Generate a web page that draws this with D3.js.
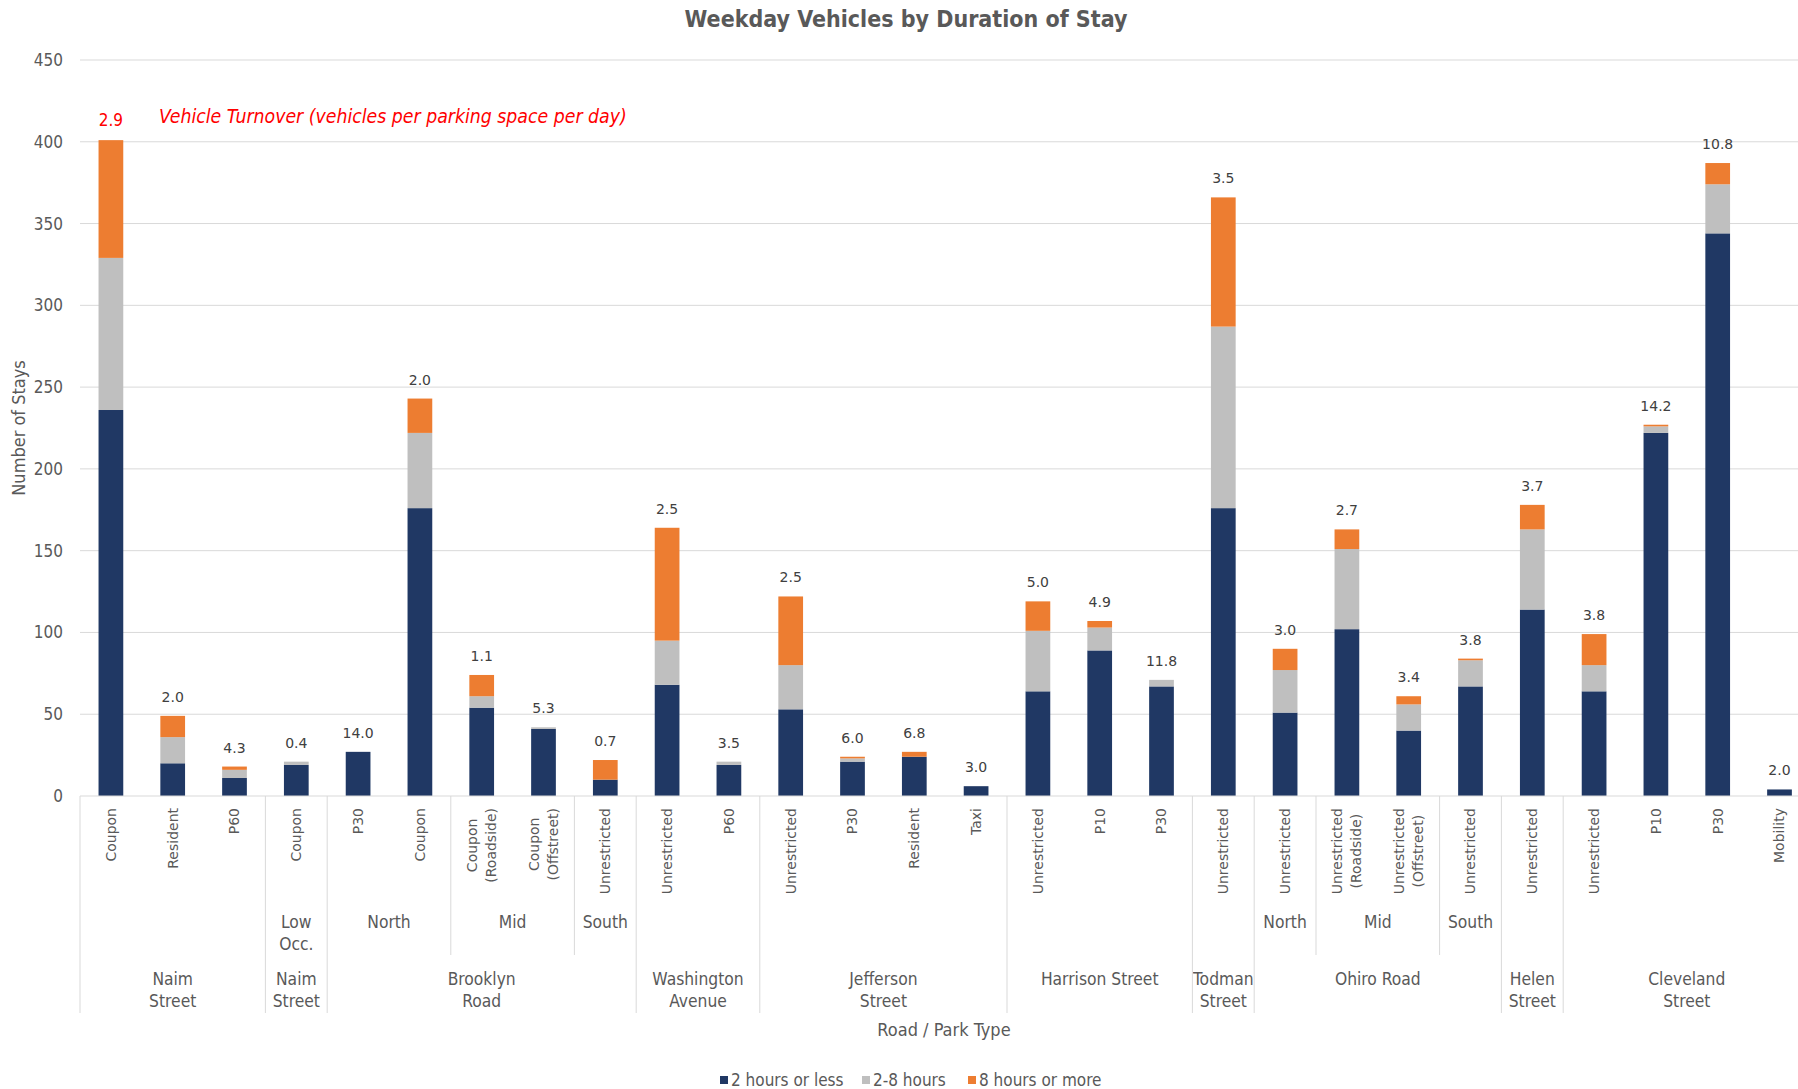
<!DOCTYPE html>
<html>
<head>
<meta charset="utf-8">
<script src="https://cdn.jsdelivr.net/npm/d3@7"></script>
<style>
  body { margin: 0; background: #fff; }
  .cal { font-family: "Liberation Sans Narrow", "DejaVu Sans Condensed", "Open Sans", sans-serif; }
  .ver { font-family: "DejaVu Sans", Verdana, sans-serif; }
</style>
</head>
<body>
<div id="chart"></div>
<script>
// leaf categories (park type), bottom row of the axis
var types = ["Coupon","Resident","P60","Coupon","P30","Coupon","Coupon\n(Roadside)","Coupon\n(Offstreet)","Unrestricted",
  "Unrestricted","P60","Unrestricted","P30","Resident","Taxi","Unrestricted","P10","P30","Unrestricted",
  "Unrestricted","Unrestricted\n(Roadside)","Unrestricted\n(Offstreet)","Unrestricted","Unrestricted",
  "Unrestricted","P10","P30","Mobility"];
// middle row groups
var areaNames = ["", "Low\nOcc.", "North", "Mid", "South", "", "", "", "", "North", "Mid", "South", "", ""];
var areaSizes = [3, 1, 2, 2, 1, 2, 4, 3, 1, 1, 2, 1, 1, 4];
// top row groups (road)
var roadNames = ["Naim\nStreet", "Naim\nStreet", "Brooklyn\nRoad", "Washington\nAvenue", "Jefferson\nStreet",
  "Harrison Street", "Todman\nStreet", "Ohiro Road", "Helen\nStreet", "Cleveland\nStreet"];
var roadSizes = [3, 1, 5, 2, 4, 3, 1, 4, 1, 4];

var seriesNames = ["2 hours or less", "2-8 hours", "8 hours or more"];
var under2 = [236,20,11,19,27,176,54,41,10,68,19,53,21,24,6,64,89,67,176,51,102,40,67,114,64,222,344,4];
var h2to8  = [93,16,5,2,0,46,7,1,0,27,2,27,2,0,0,37,14,4,111,26,49,16,16,49,16,4,30,0];
var over8  = [72,13,2,0,0,21,13,0,12,69,0,42,1,3,0,18,4,0,79,13,12,5,1,15,19,1,13,0];
var turnover = ["2.9","2.0","4.3","0.4","14.0","2.0","1.1","5.3","0.7","2.5","3.5","2.5","6.0","6.8","3.0",
  "5.0","4.9","11.8","3.5","3.0","2.7","3.4","3.8","3.7","3.8","14.2","10.8","2.0"];
var yTicks = [0,50,100,150,200,250,300,350,400,450];

var colors = ["#203864", "#bfbfbf", "#ed7d31"];
var W = 1798, H = 1089;
var left = 80, step = 61.8;
var axisY = 796, areaBottom = 955, roadBottom = 1013;

var svg = d3.select("#chart").append("svg")
  .attr("width", W).attr("height", H);

var ids = types.map(function(d, i) { return i; });
var x = d3.scaleBand().domain(ids)
  .range([left, left + step * types.length])
  .paddingInner(0.6).paddingOuter(0.3);
var y = d3.scaleLinear().domain([0, 450]).range([axisY, 60]);

// gridlines
svg.append("g").selectAll("line").data(yTicks.slice(1)).enter().append("line")
  .attr("x1", left).attr("x2", W)
  .attr("y1", function(d) { return y(d); }).attr("y2", function(d) { return y(d); })
  .attr("stroke", "#d9d9d9").attr("stroke-width", 1);

// y axis labels
var yAxis = d3.axisLeft(y).tickValues(yTicks).tickSize(0).tickPadding(0);
var gy = svg.append("g").attr("transform", "translate(63,0)").call(yAxis);
gy.select(".domain").remove();
gy.selectAll("text").attr("class", "cal").attr("font-size", 17).attr("fill", "#595959");

// stacked bars
var rows = ids.map(function(i) { return {i: i, a: under2[i], b: h2to8[i], c: over8[i]}; });
var stack = d3.stack().keys(["a", "b", "c"])(rows);
svg.append("g").selectAll("g").data(stack).enter().append("g")
  .attr("fill", function(d, k) { return colors[k]; })
  .selectAll("rect").data(function(d) { return d; }).enter().append("rect")
  .attr("x", function(d) { return x(d.data.i); })
  .attr("width", x.bandwidth())
  .attr("y", function(d) { return y(d[1]); })
  .attr("height", function(d) { return y(d[0]) - y(d[1]); });

// turnover labels
svg.append("g").selectAll("text").data(rows).enter().append("text")
  .attr("class", function(d) { return d.i == 0 ? "cal" : "ver"; })
  .attr("x", function(d) { return x(d.i) + x.bandwidth() / 2; })
  .attr("y", function(d) { return y(d.a + d.b + d.c) - 14; })
  .attr("text-anchor", "middle")
  .attr("font-size", function(d) { return d.i == 0 ? 17 : 14; })
  .attr("fill", function(d) { return d.i == 0 ? "#ff0000" : "#404040"; })
  .text(function(d) { return turnover[d.i]; });

svg.append("text").attr("class", "cal")
  .attr("x", 159).attr("y", 123)
  .attr("font-size", 19.3).attr("font-style", "italic").attr("fill", "#ff0000")
  .text("Vehicle Turnover (vehicles per parking space per day)");

// category axis
var ax = svg.append("g");
ax.append("line").attr("x1", left).attr("x2", W).attr("y1", axisY).attr("y2", axisY)
  .attr("stroke", "#d9d9d9");

// leaf labels, rotated
types.forEach(function(t, i) {
  var cx = x(i) + x.bandwidth() / 2;
  var lines = t.split("\n");
  var txt = ax.append("text").attr("class", "ver").attr("font-size", 14).attr("fill", "#595959")
    .attr("transform", "rotate(-90)");
  var lh = 19;
  lines.forEach(function(l, k) {
    txt.append("tspan").attr("x", 0)
      .attr("y", cx + (k - (lines.length - 1) / 2) * lh)
      .attr("dy", "0.35em").text(l);
  });
  if (lines.length == 1) {
    txt.attr("text-anchor", "end");
    txt.selectAll("tspan").attr("x", -808);
  } else {
    var wmax = d3.max(txt.selectAll("tspan").nodes(), function(n) { return n.getComputedTextLength(); });
    txt.attr("text-anchor", "middle");
    txt.selectAll("tspan").attr("x", -(808 + wmax / 2));
  }
});

function groupLabels(names, sizes, top, lh) {
  var pos = 0;
  names.forEach(function(nm, k) {
    var x0 = left + pos * step, x1 = left + (pos + sizes[k]) * step;
    pos += sizes[k];
    if (!nm) return;
    var t = ax.append("text").attr("class", "cal").attr("font-size", 17.3).attr("fill", "#595959")
      .attr("text-anchor", "middle");
    nm.split("\n").forEach(function(l, j) {
      t.append("tspan").attr("x", (x0 + x1) / 2).attr("y", top + j * lh).text(l);
    });
  });
}
groupLabels(areaNames, areaSizes, 928, 22);
groupLabels(roadNames, roadSizes, 985, 22);

// separators: road boundaries go full depth, area boundaries only through the area row
var roadEdges = [0];
roadSizes.forEach(function(s) { roadEdges.push(roadEdges[roadEdges.length - 1] + s); });
var areaEdges = [0];
areaSizes.forEach(function(s) { areaEdges.push(areaEdges[areaEdges.length - 1] + s); });
areaEdges.forEach(function(e) {
  var full = roadEdges.indexOf(e) >= 0;
  if (left + e * step > W) return;
  ax.append("line")
    .attr("x1", left + e * step).attr("x2", left + e * step)
    .attr("y1", axisY).attr("y2", full ? roadBottom : areaBottom)
    .attr("stroke", "#d9d9d9");
});

// titles
svg.append("text").attr("class", "cal")
  .attr("x", 906).attr("y", 27).attr("text-anchor", "middle")
  .attr("font-size", 23).attr("font-weight", "bold").attr("fill", "#595959")
  .text("Weekday Vehicles by Duration of Stay");
svg.append("text").attr("class", "cal")
  .attr("x", 944).attr("y", 1036).attr("text-anchor", "middle")
  .attr("font-size", 18).attr("fill", "#595959")
  .text("Road / Park Type");
svg.append("text").attr("class", "cal")
  .attr("transform", "translate(25,428) rotate(-90)").attr("text-anchor", "middle")
  .attr("font-size", 18).attr("fill", "#595959")
  .text("Number of Stays");

// legend
var legendX = [720, 862, 968];
var lg = svg.append("g").selectAll("g").data(seriesNames).enter().append("g")
  .attr("transform", function(d, k) { return "translate(" + legendX[k] + ",1080)"; });
lg.append("rect").attr("x", 0).attr("y", -4).attr("width", 8).attr("height", 8)
  .attr("fill", function(d, k) { return colors[k]; });
lg.append("text").attr("class", "cal").attr("x", 11).attr("y", 6)
  .attr("font-size", 17).attr("fill", "#595959")
  .text(function(d) { return d; });
</script>
</body>
</html>
